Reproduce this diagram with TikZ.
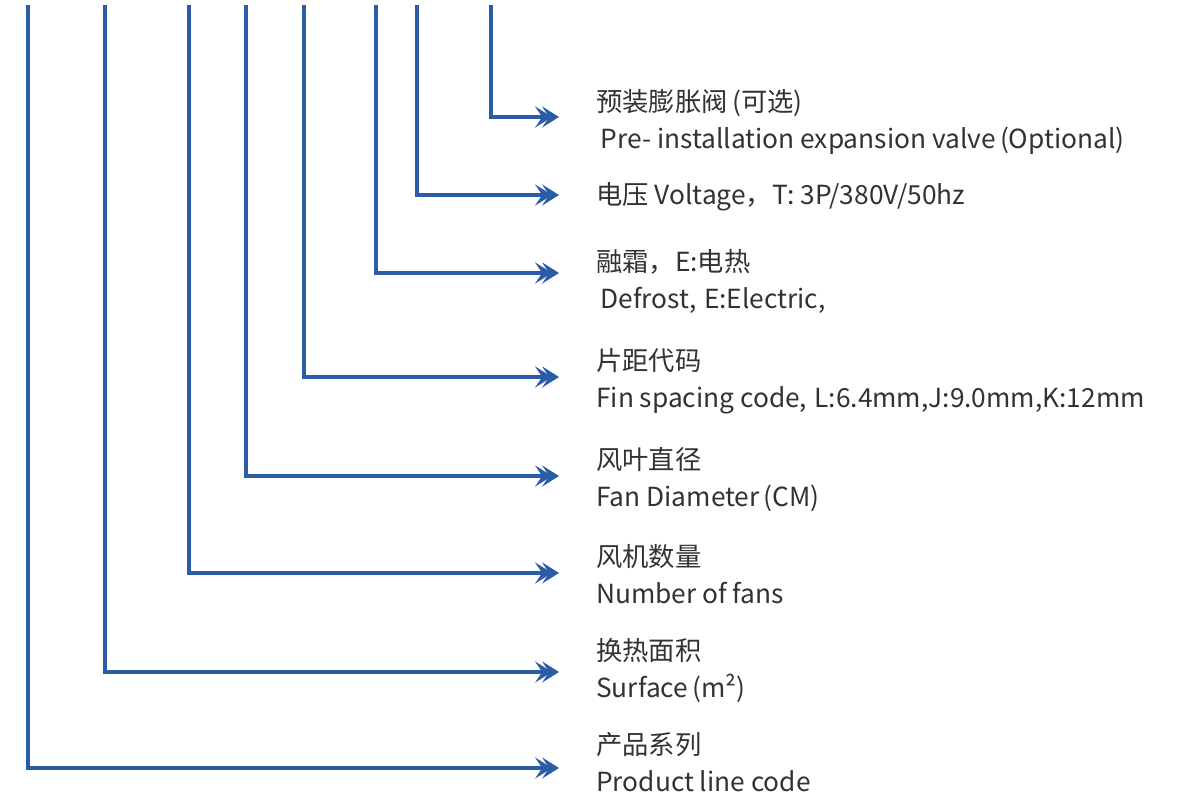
\documentclass[tikz,border=0pt]{standalone}
\usepackage{fontspec}
\setmainfont{Noto Sans CJK SC}
\usepackage{tikz}
\usetikzlibrary{arrows.meta, positioning, calc}
\definecolor{codeblue}{RGB}{43,92,166}
\definecolor{labelgray}{RGB}{50,50,50}

\begin{document}
\begin{tikzpicture}[
    x=0.025cm, y=-0.025cm,
    lbl/.style={anchor=west, inner sep=0pt, align=left, text=labelgray, font=\fontsize{18.7}{26.3}\selectfont},
    feed/.style={draw=codeblue, line width=2.3pt, -{Stealth[length=12pt,width=15pt,inset=5pt,sep=-7pt]Stealth[length=12pt,width=15pt,inset=5pt]}}
]
    \useasboundingbox (0,0) rectangle (1177,802);
    % top ends of the code columns
    \coordinate (v1) at (491,5);
    \coordinate (v2) at (417,5);
    \coordinate (v3) at (376,5);
    \coordinate (v4) at (304,5);
    \coordinate (v5) at (246,5);
    \coordinate (v6) at (189,5);
    \coordinate (v7) at (105,5);
    \coordinate (v8) at (28,5);
    % labels
    \node[lbl] (valve) at (596,121.5) {预装膨胀阀\,(可选)\\\,Pre- installation expansion valve\,(Optional)};
    \node[lbl] (volt) at (596,197) {电压 Voltage，T: 3P/380V/50hz};
    \node[lbl] (defrost) at (596,281.5) {融霜，E:电热\\\,Defrost,\;E:Electric,};
    \node[lbl] (fin) at (596,381.5) {片距代码\\Fin spacing code,\;L:6.4mm,J:9.0mm,K:12mm};
    \node[lbl] (fandia) at (596,479.5) {风叶直径\\Fan Diameter\,(CM)};
    \node[lbl] (fannum) at (596,574.5) {风机数量\\Number of fans};
    \node[lbl] (surf) at (596,670.5) {换热面积\\Surface\,(m²)};
    \node[lbl] (line) at (596,762.5) {产品系列\\Product line code};
    % connectors
    \draw[feed] (v1) |- ($(valve.west)+(-37,-4.5)$);
    \draw[feed] (v2) |- ($(volt.west)+(-37,-2)$);
    \draw[feed] (v3) |- ($(defrost.west)+(-37,-8.5)$);
    \draw[feed] (v4) |- ($(fin.west)+(-37,-4.5)$);
    \draw[feed] (v5) |- ($(fandia.west)+(-37,-3.5)$);
    \draw[feed] (v6) |- ($(fannum.west)+(-37,-1.5)$);
    \draw[feed] (v7) |- ($(surf.west)+(-37,1.5)$);
    \draw[feed] (v8) |- ($(line.west)+(-37,5.5)$);
\end{tikzpicture}
\end{document}
